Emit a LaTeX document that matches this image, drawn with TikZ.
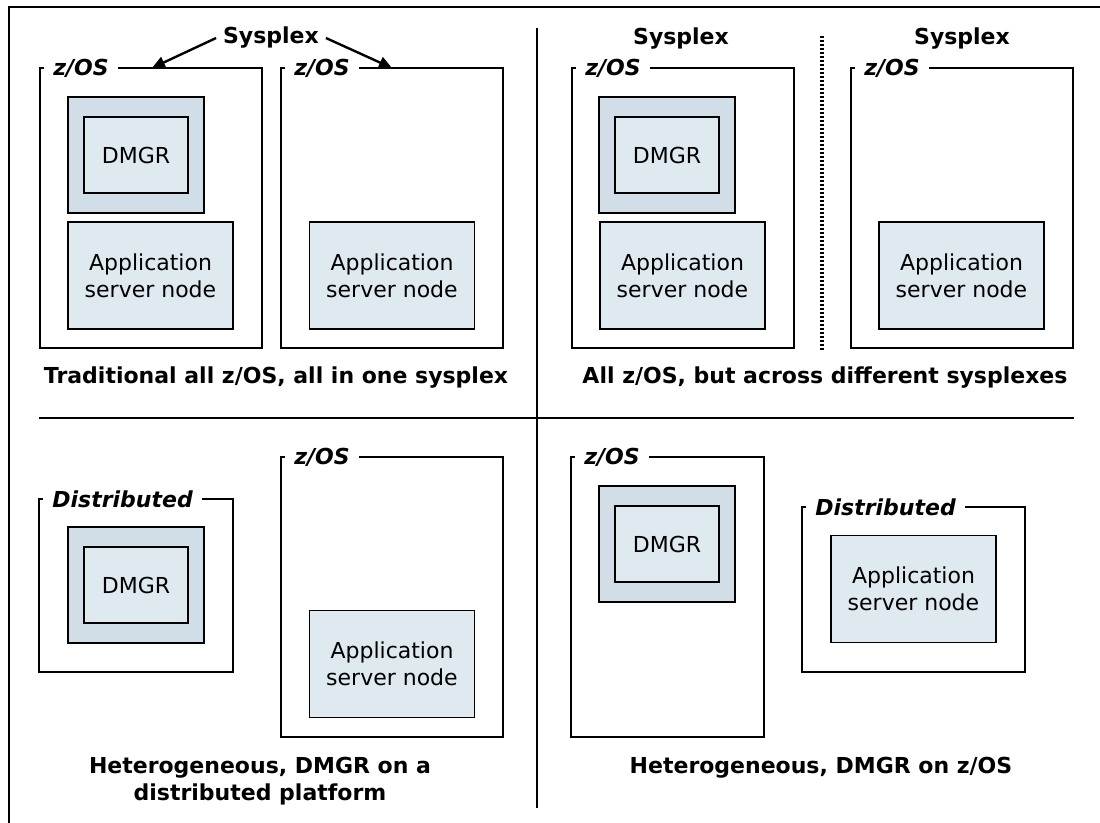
\documentclass[tikz,border=0pt]{standalone}
\usepackage{fontspec}
\setmainfont{DejaVu Sans}
\usetikzlibrary{arrows.meta}
\definecolor{dmgrshade}{RGB}{209,222,232}
\definecolor{nodeshade}{RGB}{223,233,240}
\newcommand{\figfont}{\fontsize{11}{13.5}\selectfont}
\tikzset{
  osbox/.style={draw, line width=0.9pt, minimum width=111pt, minimum height=140pt, inner sep=0pt},
  distbox/.style={draw, line width=0.9pt, inner sep=0pt},
  dmgrouter/.style={draw, fill=dmgrshade, line width=0.9pt, minimum width=68pt, minimum height=58pt, inner sep=0pt},
  dmgrinner/.style={draw, fill=nodeshade, line width=0.9pt, minimum width=52pt, minimum height=38pt, inner sep=0pt, font=\figfont},
  appnode/.style={draw, fill=nodeshade, line width=0.9pt, minimum width=82.5pt, minimum height=53.5pt, inner sep=0pt, align=center, font=\figfont},
  boxlabel/.style={anchor=west, fill=white, inner xsep=4.5pt, inner ysep=1pt, font=\figfont\bfseries\itshape},
  sysplex/.style={font=\figfont\bfseries},
  caption/.style={align=center, font=\figfont\bfseries},
  sysarrow/.style={-{Triangle[length=6.5pt,width=6pt]}, line width=1.2pt},
  divider/.style={line width=1.2pt},
  sysline/.style={line width=1.6pt, dash pattern=on 1.1pt off 0.9pt},
}
\begin{document}
\begin{tikzpicture}[x=0.5pt, y=-0.5pt]
  \useasboundingbox (0,0) rectangle (1100,823);
  % Frame and dividers
  \draw[line width=0.6pt] (9,823) -- (9,7) -- (1100,7);
  \draw[divider] (537,28) -- (537,808);
  \draw[divider] (39,418) -- (1074,418);

  % Top left: all in one sysplex
  \node[osbox] (zosA) at (151,208) {};
  \node[boxlabel] (zosAlbl) at (44,68) {z/OS};
  \node[dmgrouter] (dmgrAfr) at (136,155) {};
  \node[dmgrinner] (dmgrA) at (136,155) {DMGR};
  \node[appnode] (appA) at (150.5,275.5) {Application\\server node};
  \node[osbox] (zosB) at (392,208) {};
  \node[boxlabel] (zosBlbl) at (285,68) {z/OS};
  \node[appnode] (appB) at (392,275.5) {Application\\server node};
  \node[sysplex] (sysA) at (271,38) {Sysplex};
  \coordinate (tipA) at (152,68);
  \coordinate (tipB) at (392,68);
  \draw[sysarrow] (sysA.west) -- (tipA);
  \draw[sysarrow] (sysA.east) -- (tipB);
  \node[caption] (capA) at (276,378) {Traditional all z/OS, all in one sysplex};

  % Top right: different sysplexes
  \node[osbox] (zosC) at (683,208) {};
  \node[boxlabel] (zosClbl) at (576,68) {z/OS};
  \node[dmgrouter] (dmgrCfr) at (667,155) {};
  \node[dmgrinner] (dmgrC) at (667,155) {DMGR};
  \node[appnode] (appC) at (682.5,275.5) {Application\\server node};
  \node[osbox] (zosD) at (962,208) {};
  \node[boxlabel] (zosDlbl) at (855,68) {z/OS};
  \node[appnode] (appD) at (961.5,275.5) {Application\\server node};
  \node[sysplex] (sysC) at (681,39) {Sysplex};
  \node[sysplex] (sysD) at (962,39) {Sysplex};
  \draw[sysline] (822,36) -- (822,351);
  \node[caption] (capC) at (825,378) {All z/OS, but across different sysplexes};

  % Bottom left: DMGR on distributed
  \node[distbox, minimum width=97pt, minimum height=86.5pt] (distE) at (136,585.5) {};
  \node[boxlabel] (distElbl) at (43,499) {Distributed};
  \node[dmgrouter] (dmgrEfr) at (136,585) {};
  \node[dmgrinner] (dmgrE) at (136,585) {DMGR};
  \node[osbox] (zosF) at (392,597) {};
  \node[boxlabel] (zosFlbl) at (285,457) {z/OS};
  \node[appnode] (appF) at (392,664) {Application\\server node};
  \node[caption] (capE) at (260,781.5) {Heterogeneous, DMGR on a\\distributed platform};

  % Bottom right: DMGR on z/OS
  \node[osbox, minimum width=96.5pt] (zosG) at (667.5,597) {};
  \node[boxlabel] (zosGlbl) at (575,457) {z/OS};
  \node[dmgrouter] (dmgrGfr) at (667,544) {};
  \node[dmgrinner] (dmgrG) at (667,544) {DMGR};
  \node[distbox, minimum width=111.5pt, minimum height=82.5pt] (distH) at (913.5,589.5) {};
  \node[boxlabel] (distHlbl) at (806,507) {Distributed};
  \node[appnode] (appH) at (913.5,589) {Application\\server node};
  \node[caption] (capG) at (821,768) {Heterogeneous, DMGR on z/OS};
\end{tikzpicture}
\end{document}
